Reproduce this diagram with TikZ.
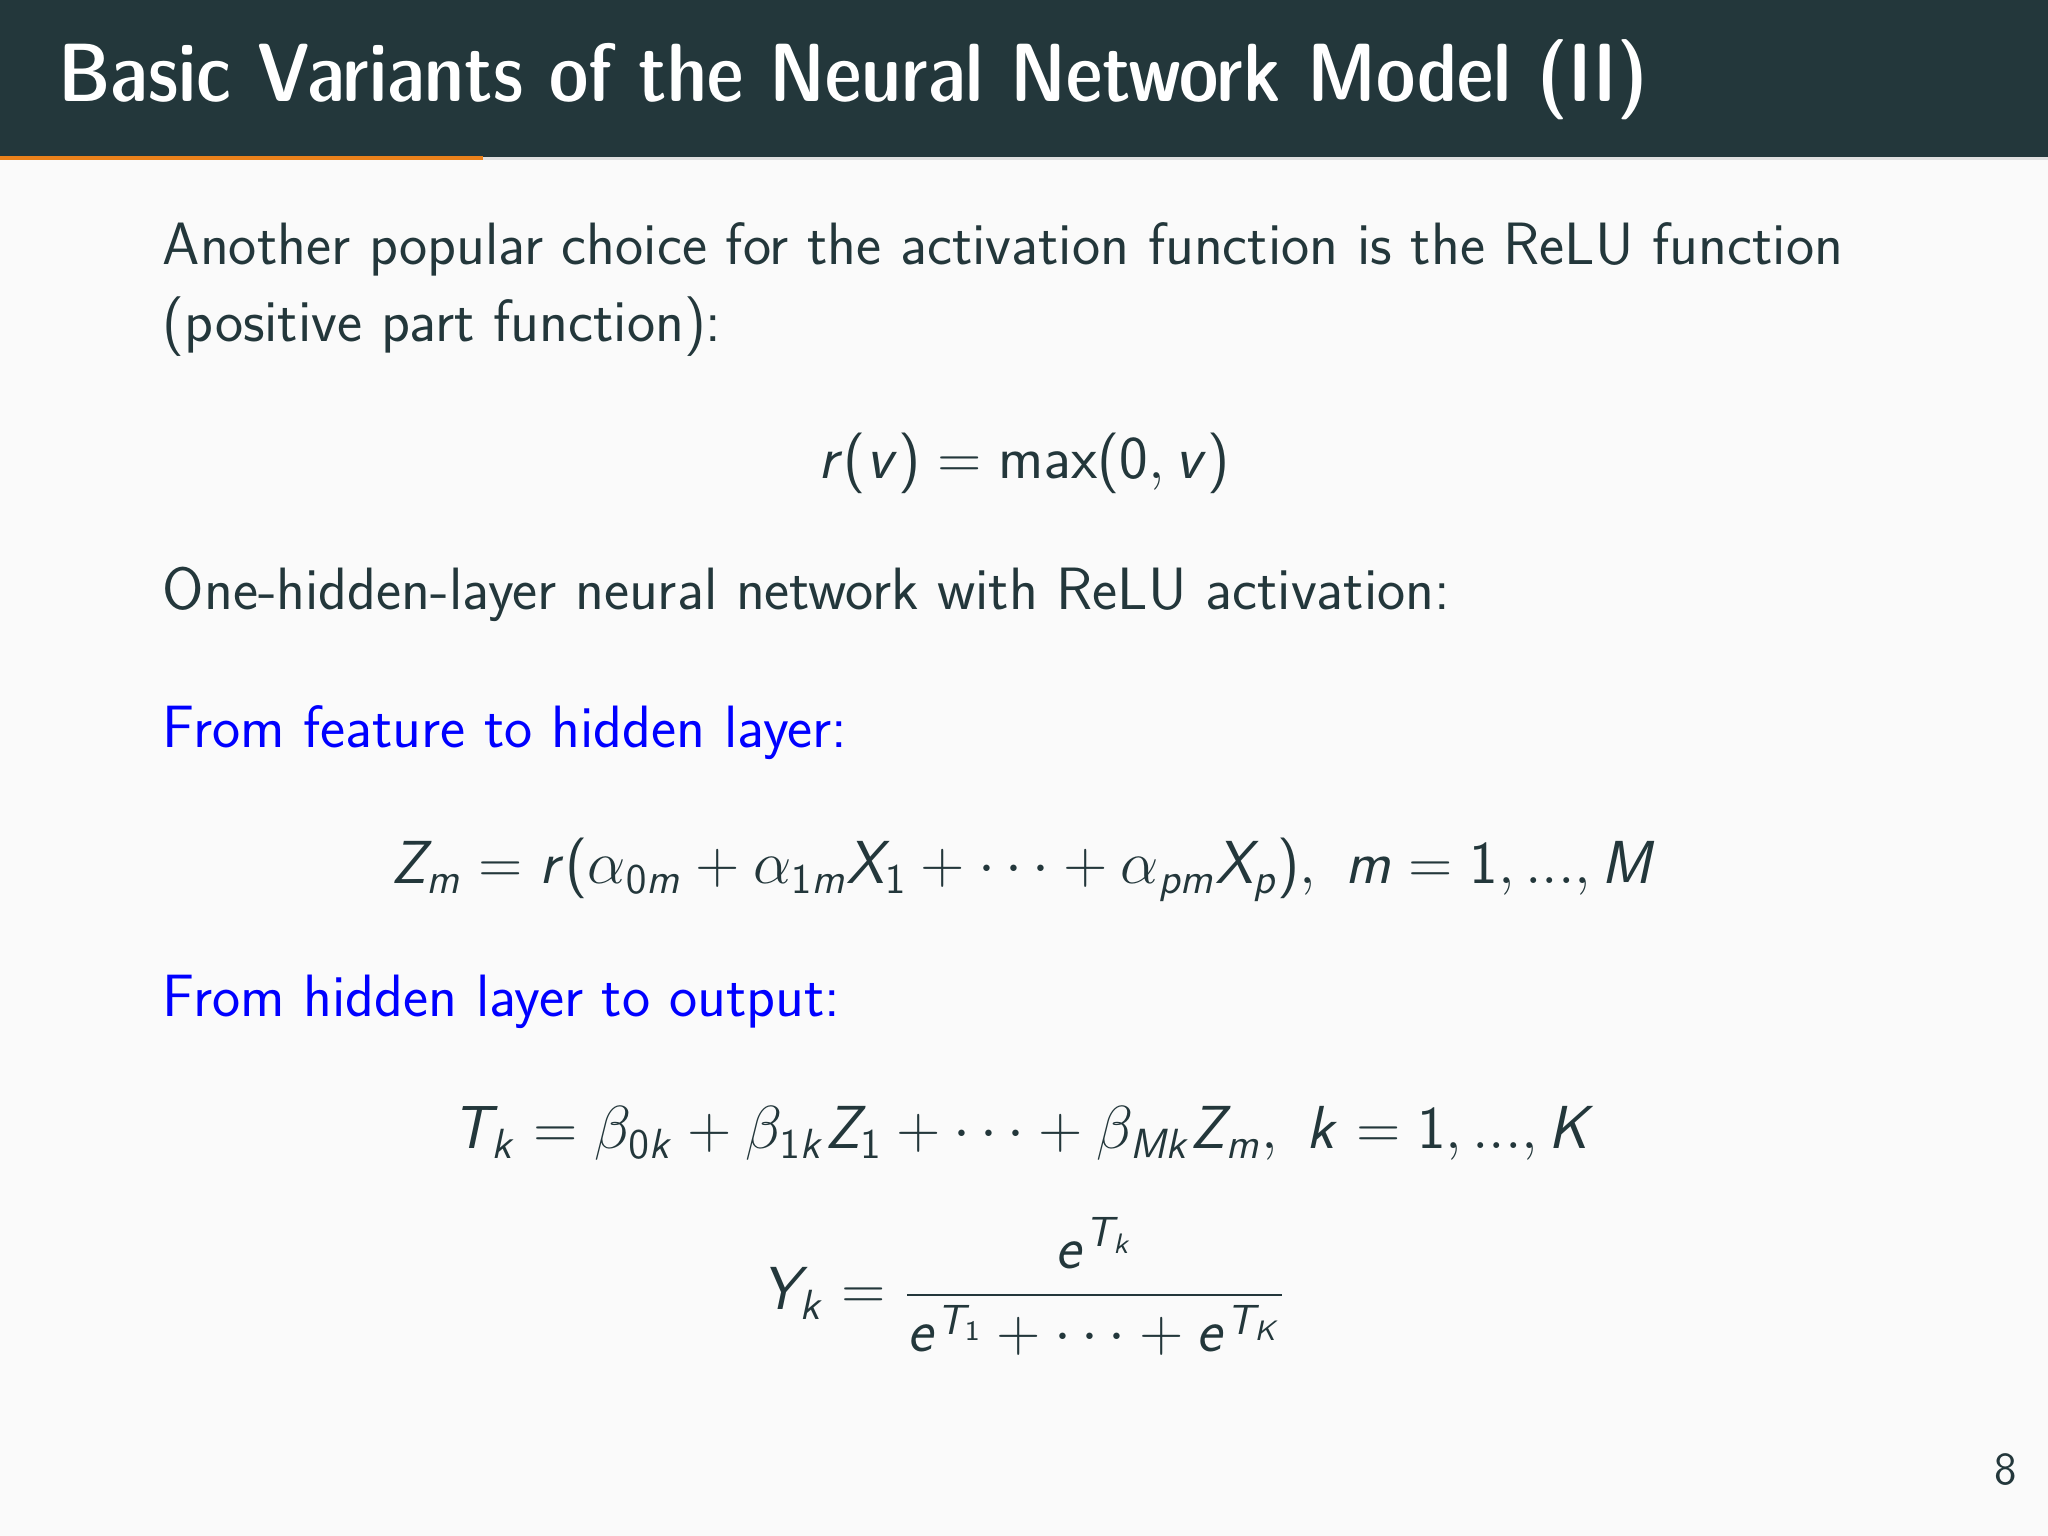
\documentclass[tikz,border=0pt]{standalone}
\usepackage{amsmath}
\DeclareSymbolFont{sfit}{OT1}{cmss}{m}{sl}
\DeclareSymbolFont{sfup}{OT1}{cmss}{m}{n}
\SetSymbolFont{operators}{normal}{OT1}{cmss}{m}{n}
\makeatletter
\@for\ltr:=a,b,c,d,e,f,g,h,i,j,k,l,m,n,o,p,q,r,s,t,u,v,w,x,y,z,A,B,C,D,E,F,G,H,I,J,K,L,M,N,O,P,Q,R,S,T,U,V,W,X,Y,Z\do{%
  \expandafter\DeclareMathSymbol\expandafter{\ltr}{\mathalpha}{sfit}{\expandafter`\ltr}}
\@for\ltr:=0,1,2,3,4,5,6,7,8,9\do{%
  \expandafter\DeclareMathSymbol\expandafter{\ltr}{\mathalpha}{sfup}{\expandafter`\ltr}}
\makeatother
\definecolor{mDark}{HTML}{23373B}
\definecolor{mOrange}{HTML}{EB811B}
\definecolor{mBg}{HTML}{FAFAFA}
\tikzset{txt/.style={anchor=base west,inner sep=0pt,text=mDark,font=\fontsize{17}{20}\selectfont\sffamily},
 blu/.style={txt,text=blue},
 eq/.style={anchor=base,inner sep=0pt,text=mDark,font=\fontsize{17}{20}\selectfont\sffamily}}
\begin{document}
\begin{tikzpicture}
\fill[mBg] (0,0) rectangle (20.48,15.36);
\useasboundingbox (0,0) rectangle (20.48,15.36);
\fill[mDark] (0,13.79) rectangle (20.48,15.36);
\fill[black!12] (0,13.76) rectangle (20.48,13.79);
\fill[mOrange] (0,13.755) rectangle (4.83,13.795);
\node[anchor=base west,inner sep=0pt,text=white,font=\fontsize{23.5}{28}\selectfont\sffamily\fontseries{sbc}\selectfont] (title) at (0.575,14.34) {Basic Variants of the Neural Network Model (II)};
\node[txt] (l1) at (1.62,12.71) {Another popular choice for the activation function is the ReLU function};
\node[txt] (l2) at (1.62,11.94) {(positive part function):};
\node[eq] (e1) at (10.24,10.57) {$r(v)=\max(0,v)$};
\node[txt] (l3) at (1.62,9.26) {One-hidden-layer neural network with ReLU activation:};
\node[blu] (b1) at (1.62,7.88) {From feature to hidden layer:};
\node[eq] (e2) at (10.24,6.52) {$Z_m=r(\alpha_{0m}+\alpha_{1m}X_1+\cdots+\alpha_{pm}X_p),\ m=1,...,M$};
\node[blu] (b2) at (1.62,5.19) {From hidden layer to output:};
\node[eq] (e3) at (10.24,3.87) {$T_k=\beta_{0k}+\beta_{1k}Z_1+\cdots+\beta_{Mk}Z_m,\ k=1,...,K$};
\node[eq] (e4) at (10.24,2.26) {$Y_k=\dfrac{e^{T_k}}{e^{T_1}+\cdots+e^{T_K}}$};
\node[anchor=base east,inner sep=0pt,text=mDark,font=\fontsize{13}{15}\selectfont\sffamily] (pg) at (20.18,0.51) {8};
\end{tikzpicture}
\end{document}
